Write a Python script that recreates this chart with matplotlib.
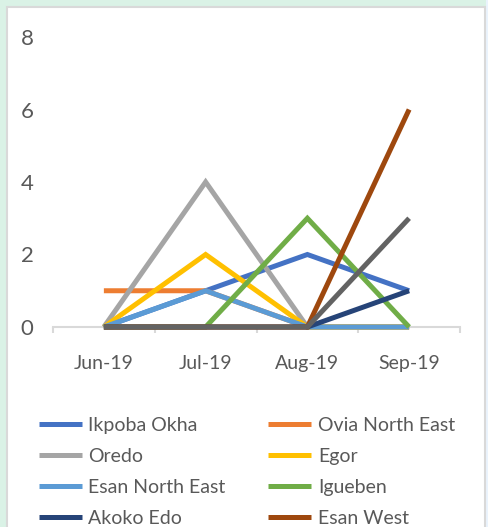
import matplotlib.pyplot as plt
from matplotlib.patches import Rectangle

plt.rcParams['font.family'] = ['Lato', 'DejaVu Sans']

months = ['Jun-19', 'Jul-19', 'Aug-19', 'Sep-19']
ikpoba_okha = [0, 1, 2, 1]
ovia_north_east = [1, 1, 0, 0]
oredo = [0, 4, 0, 0]
egor = [0, 2, 0, 0]
esan_north_east = [0, 1, 0, 0]
igueben = [0, 0, 3, 0]
akoko_edo = [0, 0, 0, 1]
esan_west = [0, 0, 0, 6]
unnamed_lga = [0, 0, 0, 3]  # legend entry is cut off in the picture

series = [
    ('Ikpoba Okha', ikpoba_okha, '#4472C4'),
    ('Ovia North East', ovia_north_east, '#ED7D31'),
    ('Oredo', oredo, '#A5A5A5'),
    ('Egor', egor, '#FFC000'),
    ('Esan North East', esan_north_east, '#5B9BD5'),
    ('Igueben', igueben, '#70AD47'),
    ('Akoko Edo', akoko_edo, '#264478'),
    ('Esan West', esan_west, '#9E480E'),
    ('_nolegend_', unnamed_lga, '#636363'),
]

W, H = 488, 527
fig = plt.figure(figsize=(W / 100, H / 100), dpi=100)
fig.patch.set_facecolor('#DAF2E6')
fig.patches.append(Rectangle((486 / W, 0), 2 / W, 1, transform=fig.transFigure,
                             facecolor='#EAF3FC', edgecolor='none', zorder=-2))
fig.patches.append(Rectangle((7 / W, -0.01), 478 / W, 1 - 7 / H + 0.01, transform=fig.transFigure,
                             facecolor='white', edgecolor='#D9D9D9', lw=1.5, zorder=-1))

ax = fig.add_axes([53 / W, 1 - 327 / H, 407 / W, 290 / H])
ax.set_facecolor('none')

x = range(len(months))
lines = {}
for name, vals, col in series:
    ln, = ax.plot(x, vals, color=col, lw=3.6, label=name, clip_on=False, zorder=3,
                  solid_joinstyle='miter', solid_capstyle='butt')
    lines[name] = ln

ax.set_xlim(-0.5, 3.5)
ax.set_ylim(0, 8)
ax.set_yticks([0, 2, 4, 6, 8])
ax.set_xticks(list(x))
ax.set_xticklabels(months)
ax.set_xticks([-0.5, 0.5, 1.5, 2.5, 3.5], minor=True)
ax.tick_params(axis='x', which='major', length=0, pad=20, labelsize=14, labelcolor='#595959')
ax.tick_params(axis='x', which='minor', length=4, width=1.5, color='#D9D9D9')
ax.tick_params(axis='y', length=0, pad=14, labelsize=16, labelcolor='#595959')
for s in ['top', 'right', 'left']:
    ax.spines[s].set_visible(False)
ax.spines['bottom'].set_color('#D9D9D9')
ax.spines['bottom'].set_linewidth(1.5)

# legend fills row by row in the picture, matplotlib fills columns
names = [s[0] for s in series if s[0] != '_nolegend_']
order = names[0::2] + names[1::2]
fig.legend([lines[n] for n in order], order, loc='upper left',
           bbox_to_anchor=(31 / W, 1 - 409 / H), ncol=2, frameon=False,
           fontsize=14, labelcolor='#595959', handlelength=2.2, handletextpad=0.35,
           columnspacing=2.2, labelspacing=0.72, borderaxespad=0)

fig.savefig('out.png', dpi=100, facecolor=fig.get_facecolor())
